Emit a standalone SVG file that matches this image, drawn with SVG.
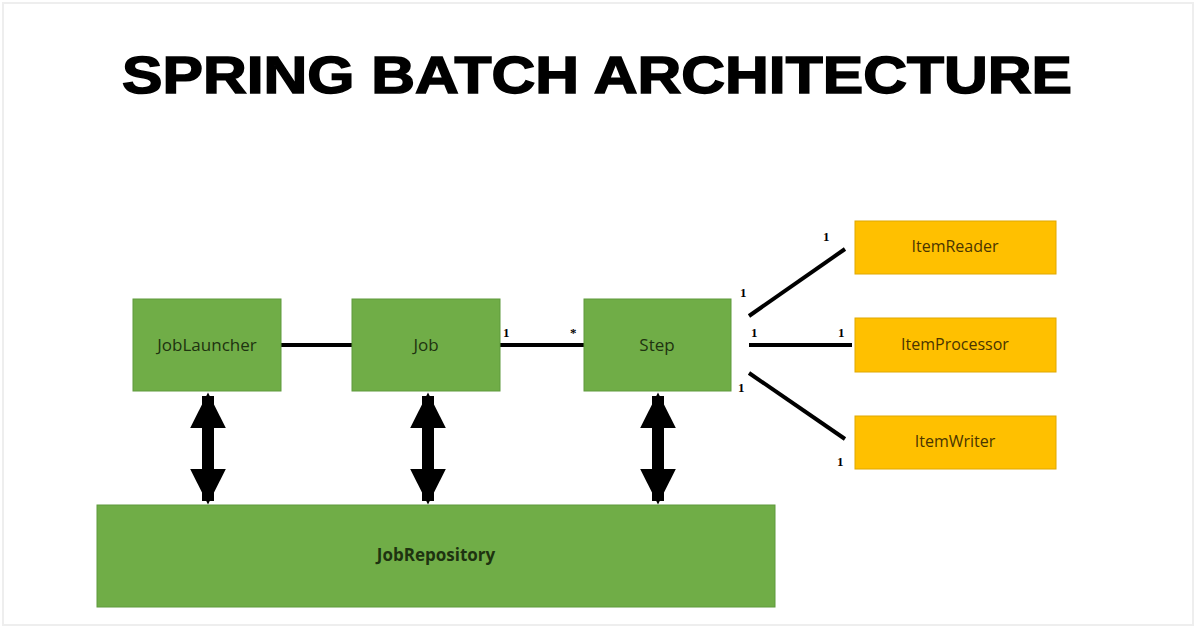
<svg xmlns="http://www.w3.org/2000/svg" width="1196" height="628" viewBox="0 0 1196 628">
<style>
.g{fill:#70ad47;stroke:#5f9a3c;stroke-width:1}
.y{fill:#ffc000;stroke:#e0a800;stroke-width:1}
.t{font-family:"Open Sans","Liberation Sans",sans-serif;font-size:17px;fill:#1e3310;text-anchor:middle;dominant-baseline:middle}
.ty{font-family:"Open Sans","Liberation Sans",sans-serif;font-size:16px;fill:#4a3500;text-anchor:middle;dominant-baseline:middle}
.l{stroke:#000;stroke-width:4;fill:none}
.n{font-family:"Liberation Serif",serif;font-weight:bold;font-size:13px;fill:#000}
</style>
<defs>
<marker id="ah" viewBox="0 0 10 10" refX="9" refY="5" markerWidth="3" markerHeight="3" orient="auto-start-reverse"><path d="M0,0 L10,5 L0,10 z" fill="#000"/></marker>
</defs>
<rect width="1196" height="628" fill="#fff"/>
<rect x="3" y="3" width="1190" height="622" fill="none" stroke="#eee" stroke-width="2"/>
<text x="597" y="93" font-family="Liberation Sans,sans-serif" font-weight="900" font-size="52" text-anchor="middle" textLength="950" lengthAdjust="spacingAndGlyphs" stroke="#000" stroke-width="1.5">SPRING BATCH ARCHITECTURE</text>
<g id="connectors">
<line class="l" x1="281" y1="345" x2="352" y2="345"/>
<line class="l" x1="500" y1="345" x2="584" y2="345"/>
<line class="l" x1="749" y1="316" x2="845" y2="249"/>
<line class="l" x1="749" y1="345" x2="852" y2="345"/>
<line class="l" x1="749" y1="373" x2="845" y2="439"/>
<line x1="208" y1="396" x2="208" y2="501" stroke="#000" stroke-width="12" marker-start="url(#ah)" marker-end="url(#ah)"/>
<line x1="428" y1="396" x2="428" y2="501" stroke="#000" stroke-width="12" marker-start="url(#ah)" marker-end="url(#ah)"/>
<line x1="658" y1="396" x2="658" y2="501" stroke="#000" stroke-width="12" marker-start="url(#ah)" marker-end="url(#ah)"/>
<text class="n" x="503" y="337">1</text>
<text class="n" x="570" y="337">*</text>
<text class="n" x="740" y="297">1</text>
<text class="n" x="823" y="241">1</text>
<text class="n" x="751" y="337">1</text>
<text class="n" x="838" y="337">1</text>
<text class="n" x="738" y="392">1</text>
<text class="n" x="837" y="466">1</text>
</g>
<g id="joblauncher"><rect class="g" x="133" y="299" width="148" height="92"/><text class="t" x="207" y="346">JobLauncher</text></g>
<g id="job"><rect class="g" x="352" y="299" width="148" height="92"/><text class="t" x="426" y="346">Job</text></g>
<g id="step"><rect class="g" x="584" y="299" width="147" height="92"/><text class="t" x="657" y="346">Step</text></g>
<g id="jobrepository"><rect class="g" x="97" y="505" width="678" height="102"/><text class="t" x="436" y="556" font-weight="bold" font-size="19">JobRepository</text></g>
<g id="itemreader"><rect class="y" x="855" y="221" width="201" height="53"/><text class="ty" x="955" y="248">ItemReader</text></g>
<g id="itemprocessor"><rect class="y" x="855" y="318" width="201" height="54"/><text class="ty" x="955" y="346">ItemProcessor</text></g>
<g id="itemwriter"><rect class="y" x="855" y="416" width="201" height="53"/><text class="ty" x="955" y="443">ItemWriter</text></g>
</svg>
